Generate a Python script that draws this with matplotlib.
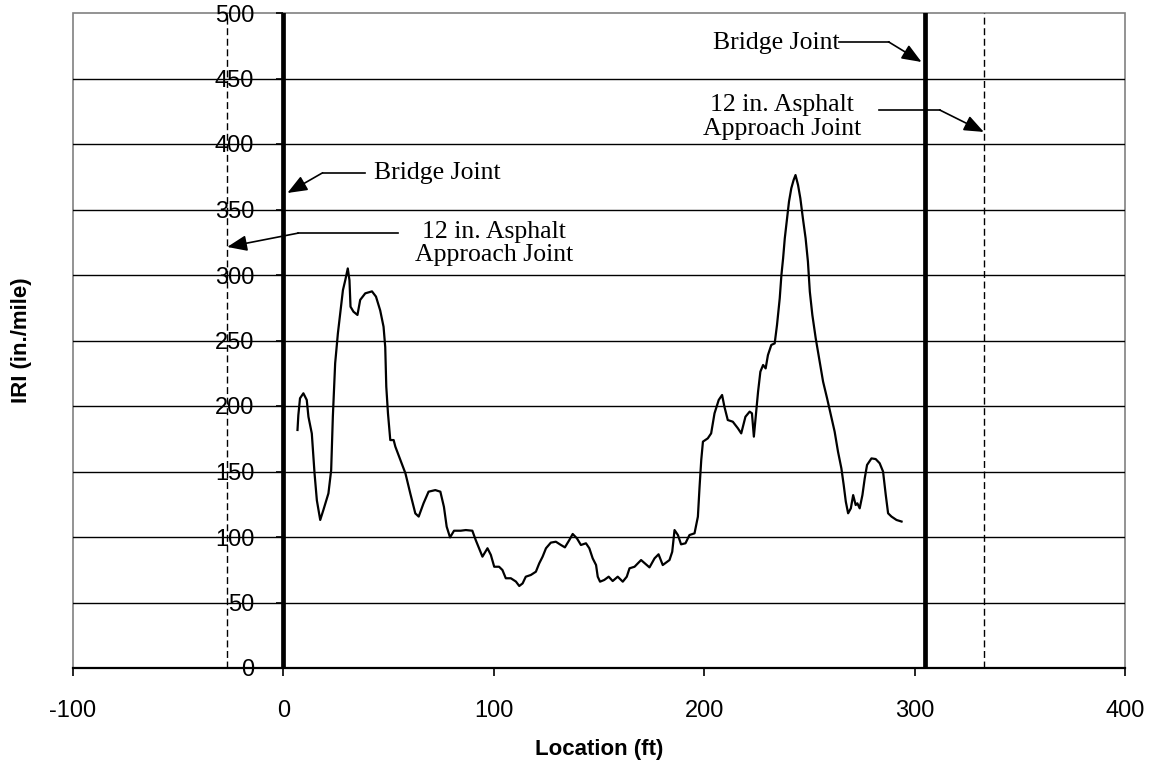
import matplotlib
matplotlib.use("Agg")
import matplotlib.pyplot as plt
from matplotlib.patches import Rectangle

# IRI profile along the bridge
location_ft = [6.7, 7.1, 7.9, 9.5, 11.1, 11.9, 13.5, 14.8, 15.9, 17.5, 19.0, 21.4, 22.7, 23.5,
               24.6, 25.9, 27.0, 28.3, 29.4, 30.6, 31.4, 31.9, 33.3, 35.2, 36.5, 38.9, 42.1,
               44.0, 46.0, 47.6, 48.4, 48.9, 49.7, 50.8, 52.4, 53.2, 55.6, 58.0, 60.3, 62.7,
               64.3, 66.6, 69.0, 72.2, 74.6, 76.3, 77.6, 79.2, 81.1, 84.3, 86.7, 89.8, 91.4,
               93.0, 94.6, 97.0, 98.6, 100.2, 102.5, 104.1, 105.7, 108.1, 110.5, 112.1, 113.7,
               115.2, 117.6, 120.0, 121.6, 123.2, 124.8, 127.1, 129.5, 131.9, 133.8, 135.9,
               137.5, 139.5, 141.4, 143.8, 145.4, 147.0, 148.6, 149.4, 150.5, 152.5, 154.6,
               156.5, 158.9, 161.3, 163.2, 164.5, 166.9, 170.0, 174.0, 176.4, 178.3, 180.3,
               183.5, 184.8, 185.9, 187.5, 189.0, 191.1, 193.0, 195.4, 197.0, 197.8, 198.6,
               199.4, 201.7, 203.3, 204.9, 206.9, 208.5, 209.6, 211.2, 213.6, 216.0, 217.6,
               219.6, 221.6, 222.7, 223.6, 224.8, 225.6, 226.7, 228.0, 229.2, 230.3, 231.9,
               233.5, 234.6, 235.9, 236.7, 237.5, 238.3, 239.4, 240.3, 241.4, 242.5, 243.4,
               244.6, 245.7, 246.9, 248.2, 249.3, 250.2, 251.4, 253.0, 254.9, 256.5, 258.4,
               260.0, 262.0, 263.6, 265.2, 266.3, 267.3, 268.4, 269.7, 270.8, 272.0, 272.8,
               273.9, 275.2, 276.3, 277.4, 279.5, 281.5, 283.4, 285.0, 286.3, 287.4, 289.0,
               291.4, 293.8]
iri = [181.7, 193.0, 205.9, 209.7, 204.6, 191.8, 179.0, 148.6, 128.0, 113.0, 120.6, 133.3,
       151.0, 191.8, 232.6, 255.5, 270.7, 288.5, 296.0, 305.0, 296.0, 275.8, 272.0, 269.5,
       281.0, 286.0, 287.5, 283.5, 273.0, 260.5, 245.0, 214.7, 194.4, 174.0, 174.0, 169.0,
       158.8, 148.6, 133.3, 118.0, 115.6, 125.7, 134.6, 135.8, 134.6, 123.0, 107.9, 99.7,
       104.8, 104.8, 105.3, 104.8, 97.7, 91.4, 85.0, 91.4, 86.3, 77.3, 77.3, 74.8, 68.5,
       68.5, 66.0, 62.6, 64.6, 69.7, 71.0, 73.5, 79.9, 85.0, 91.4, 95.7, 96.4, 93.9, 92.1,
       97.7, 102.3, 99.0, 93.9, 95.2, 91.4, 83.7, 78.6, 69.7, 65.9, 67.2, 69.7, 66.4, 69.7,
       65.9, 69.7, 76.1, 77.3, 82.4, 76.8, 83.7, 86.8, 78.6, 82.4, 88.7, 105.3, 101.5, 94.4,
       95.2, 101.5, 102.8, 115.5, 138.4, 158.8, 172.8, 175.3, 179.1, 194.4, 204.6, 208.4,
       199.5, 189.3, 188.0, 183.0, 179.1, 191.8, 195.7, 194.4, 176.6, 197.0, 210.9, 226.2,
       231.3, 228.7, 238.9, 246.6, 247.8, 261.8, 282.2, 300.0, 312.7, 328.0, 343.3, 356.0,
       366.2, 372.5, 376.3, 368.7, 358.5, 343.3, 328.0, 310.2, 287.3, 269.5, 251.7, 233.8,
       218.6, 205.9, 194.4, 180.4, 165.1, 152.4, 139.7, 127.0, 118.1, 121.9, 132.0, 124.4,
       125.7, 121.9, 132.0, 144.8, 155.0, 160.0, 159.5, 156.3, 150.0, 132.0, 118.1, 115.6,
       113.0, 111.8]

# Joint locations (ft)
bridge_joints = [0, 305]
approach_joints = [-27, 333]

x_ticks = [-100, 0, 100, 200, 300, 400]
y_ticks = [0, 50, 100, 150, 200, 250, 300, 350, 400, 450, 500]

# Callouts: label, label position, label alignment, start of leader, elbow, arrow tip
callouts = [
    ("Bridge Joint", (42.9, 378), "left", (39, 378), (18.6, 378), (1.9, 362.6)),
    ("12 in. Asphalt\nApproach Joint", (100, 324), "center", (54.3, 332), (7.1, 332), (-26.7, 321.4)),
    ("Bridge Joint", (264.3, 477), "right", (264.3, 478), (287.6, 478), (303.3, 462.6)),
    ("12 in. Asphalt\nApproach Joint", (237, 420.6), "center", (283.3, 426), (311.9, 426), (332.9, 409.2)),
]

fig = plt.figure(figsize=(11.52, 7.71), dpi=100)
ax = fig.add_axes([73 / 1152, 1 - 668 / 771, (1125 - 73) / 1152, (668 - 13) / 771])

ax.set_xlim(-100, 400)
ax.set_ylim(0, 500)

# horizontal gridlines
for yv in y_ticks[1:-1]:
    ax.axhline(yv, color="black", lw=1.0, zorder=1)

# joint markers
for xb in bridge_joints:
    ax.axvline(xb, color="black", lw=3.4, zorder=3)
for xa in approach_joints:
    ax.axvline(xa, color="black", lw=1.0, linestyle=(0, (5, 2.6)), zorder=2)

ax.plot(location_ft, iri, color="black", lw=1.6, zorder=4)

# callouts with leader lines
for label, tpos, ha, start, elbow, tip in callouts:
    ax.text(tpos[0], tpos[1], label, ha=ha, va="center", family="Liberation Serif",
            fontsize=18.5, linespacing=1.1, zorder=5)
    ax.plot([start[0], elbow[0]], [start[1], elbow[1]], color="black", lw=1.2, zorder=5)
    ax.annotate("", xy=tip, xytext=elbow,
                arrowprops=dict(arrowstyle="-|>,head_length=0.8,head_width=0.32",
                                mutation_scale=15, color="black", lw=1.2,
                                shrinkA=0, shrinkB=0), zorder=5)

# frame: grey border, x axis at y=0, y axis crossing at x=0
ax.add_patch(Rectangle((0, 0), 1, 1, transform=ax.transAxes, fill=False,
                       edgecolor="#808080", lw=1.2, zorder=0.5, clip_on=False))
ax.spines["top"].set_visible(False)
ax.spines["right"].set_visible(False)
ax.spines["left"].set_position(("data", 0))
ax.spines["left"].set_color("black")
ax.spines["bottom"].set_color("black")
ax.spines["bottom"].set_linewidth(1.6)

ax.set_xticks(x_ticks)
ax.set_yticks(y_ticks)
ax.set_xticklabels([str(v) for v in x_ticks])
ax.set_yticklabels([str(v) for v in y_ticks])
ax.tick_params(axis="x", direction="out", length=6, width=1.2, pad=17,
               labelsize=17, labelfontfamily="Liberation Sans")
ax.tick_params(axis="y", direction="out", length=5, width=1.2, pad=16,
               labelsize=17, labelfontfamily="Liberation Sans")

ax.set_xlabel("Location (ft)", fontsize=16, fontweight="bold", family="Liberation Sans",
              labelpad=12)
fig.text(22 / 1152, 1 - 340 / 771, "IRI (in./mile)", rotation=90, ha="center", va="center",
         fontsize=16, fontweight="bold", family="Liberation Sans")

fig.savefig("out.png", dpi=100)
